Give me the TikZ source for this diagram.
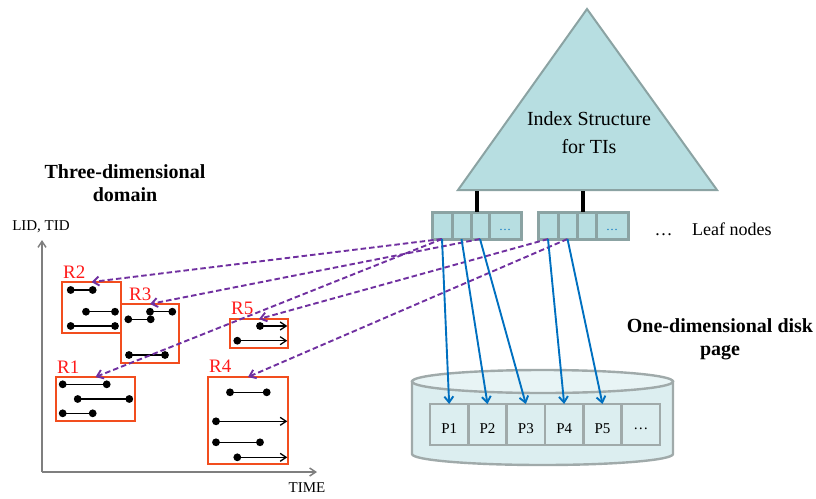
\documentclass[tikz,border=0pt]{standalone}
\usepackage{fontspec}
\setmainfont{Liberation Serif}
\usetikzlibrary{arrows.meta,calc}

\definecolor{tealfill}{HTML}{B7DEE1}
\definecolor{tealline}{HTML}{8BA3A3}
\definecolor{diskfill}{HTML}{DCEEF0}
\definecolor{disktop}{HTML}{E8F4F5}
\definecolor{diskline}{HTML}{A0AAAA}
\definecolor{rectred}{HTML}{F24D1E}
\definecolor{labred}{HTML}{FF1A1A}
\definecolor{linkpurple}{HTML}{7030A0}
\definecolor{linkblue}{HTML}{0070C0}
\definecolor{axisgray}{HTML}{7F7F7F}

% one time interval: closed at both ends, or still open at the right end
\newcommand\ivclosed[3]{%
  \draw[ivline] (#1,#3) -- (#2,#3);
  \fill (#1,#3) circle[radius=3.9];
  \fill (#2,#3) circle[radius=3.9];}
\newcommand\ivopen[3]{%
  \draw[ivline,-{Straight Barb[length=6pt,width=8pt]}] (#1,#3) -- (#2,#3);
  \fill (#1,#3) circle[radius=3.9];}

\begin{document}
\begin{tikzpicture}[x=1pt,y=-1pt,
  tri/.style={draw=tealline, fill=tealfill, line width=2pt, line join=miter},
  stem/.style={draw=black, line width=3.4pt},
  cell/.style={draw=tealline, fill=tealfill, line width=3pt,
    minimum height=27pt, inner sep=0pt, outer sep=0pt},
  bluedots/.style={text=linkblue, font=\fontsize{12}{14}\selectfont, inner sep=0pt},
  pbox/.style={draw=diskline, fill=diskfill, line width=2.4pt,
    minimum width=38.33pt, minimum height=41pt, inner sep=0pt, outer sep=0pt},
  plabel/.style={font=\fontsize{15}{18}\selectfont, yshift=-4pt},
  region/.style={draw=rectred, line width=2pt, inner sep=0pt, outer sep=0pt},
  rlabel/.style={text=labred, font=\fontsize{19}{22}\selectfont, inner sep=0pt, anchor=base west},
  ivline/.style={draw=black, line width=1.3pt},
  axis/.style={draw=axisgray, line width=1.5pt, -{Straight Barb[length=6pt,width=8pt]}},
  link/.style={draw=linkpurple, line width=1.9pt, dash pattern=on 5.5pt off 3pt,
    -{Straight Barb[length=6pt,width=9pt]}},
  pagelink/.style={draw=linkblue, line width=1.9pt, -{Straight Barb[length=6pt,width=9pt]}},
  title/.style={font=\fontsize{20}{23}\selectfont\bfseries, align=center, inner sep=0pt},
  plain/.style={font=\fontsize{15}{18}\selectfont, inner sep=0pt}
]
\useasboundingbox (0,0) rectangle (816,498);

% ---------- index structure ----------
\coordinate (tapex) at (587,9);
\coordinate (tbl) at (458,190);
\coordinate (tbr) at (717,190);
\draw[tri] (tapex) -- (tbr) -- (tbl) -- cycle;
\node[font=\fontsize{20}{28}\selectfont, align=center, inner sep=0pt] (idx) at (589,133)
  {Index Structure\\for TIs};

% ---------- leaf nodes ----------
\node[cell, minimum width=20pt] (l1a) at (442,225.5) {};
\node[cell, minimum width=19pt] (l1b) at (461.5,225.5) {};
\node[cell, minimum width=18pt] (l1c) at (480,225.5) {};
\node[cell, minimum width=32pt] (l1d) at (505,225.5) {};
\node[bluedots] (l1dots) at ([yshift=-4pt]l1d.center) {…};

\node[cell, minimum width=20pt] (l2a) at (548,225.5) {};
\node[cell, minimum width=19pt] (l2b) at (567.5,225.5) {};
\node[cell, minimum width=19pt] (l2c) at (586.5,225.5) {};
\node[cell, minimum width=32pt] (l2d) at (612,225.5) {};
\node[bluedots] (l2dots) at ([yshift=-4pt]l2d.center) {…};

\coordinate (s1) at (477,191);
\coordinate (s2) at (583,191);
\draw[stem] (s1) -- (s1 |- l1c.north);
\draw[stem] (s2) -- (s2 |- l2c.north);

\node[font=\fontsize{18}{20}\selectfont, inner sep=0pt, anchor=base] (moreleaves) at (663.5,235) {…};
\node[font=\fontsize{18}{20}\selectfont, inner sep=0pt, anchor=base west] (leaftxt) at (692,235) {Leaf nodes};

% ---------- disk ----------
\path[fill=diskfill, draw=diskline, line width=2.4pt]
  (412,381.5) -- (412,454)
  arc[start angle=180, end angle=0, x radius=130.5, y radius=11]
  -- (673,381.5) -- cycle;
\draw[fill=disktop, draw=diskline, line width=2.4pt] (542.5,381.5) ellipse[x radius=130.5, y radius=11.5];

\node[pbox, label={[plabel]center:P1}] (p1) at (449.17,424.5) {};
\node[pbox, label={[plabel]center:P2}] (p2) at (487.5,424.5) {};
\node[pbox, label={[plabel]center:P3}] (p3) at (525.83,424.5) {};
\node[pbox, label={[plabel]center:P4}] (p4) at (564.17,424.5) {};
\node[pbox, label={[plabel]center:P5}] (p5) at (602.5,424.5) {};
\node[pbox, label={[plabel]center:…}] (p6) at (640.83,424.5) {};

\node[title] (disktxt) at (720,339) {One-dimensional disk\\page};

% ---------- three-dimensional domain ----------
\node[title] (domtxt) at (125,183) {Three-dimensional\\domain};

\coordinate (origin) at (42,472);
\coordinate (yend) at (42,240);
\coordinate (xend) at (317,472);
\draw[axis] (origin) -- (yend);
\draw[axis] (origin) -- (xend);
\node[plain] (ylab) at (41,227) {LID, TID};
\node[plain] (xlab) at (307,488) {TIME};

\node[region, minimum width=59pt, minimum height=51pt] (r2) at (91.5,307.5) {};
\node[region, minimum width=58pt, minimum height=59pt] (r3) at (150,333.5) {};
\node[region, minimum width=58pt, minimum height=29pt] (r5) at (259,333.5) {};
\node[region, minimum width=79pt, minimum height=44pt] (r1) at (95.5,399) {};
\node[region, minimum width=80pt, minimum height=87pt] (r4) at (248,420.5) {};

\node[rlabel] (r2lab) at (63,278) {R2};
\node[rlabel] (r3lab) at (129,300) {R3};
\node[rlabel] (r5lab) at (231,314) {R5};
\node[rlabel] (r1lab) at (57,373) {R1};
\node[rlabel] (r4lab) at (209,372) {R4};

% intervals of R2
\ivclosed{70.7}{92.7}{290}
\ivclosed{86}{115}{311.7}
\ivclosed{70.7}{115}{326}
% intervals of R3
\ivclosed{150}{172.3}{311.7}
\ivclosed{128.3}{150.7}{319.3}
\ivclosed{129}{165}{355}
% intervals of R5
\ivopen{260}{287.3}{326}
\ivopen{237.3}{287.3}{340.7}
% intervals of R1
\ivclosed{62.7}{106.7}{384.3}
\ivclosed{77.7}{129.3}{399}
\ivclosed{62.7}{92.7}{413.3}
% intervals of R4
\ivclosed{230}{266.7}{392.3}
\ivopen{216}{287.3}{421.3}
\ivclosed{216}{260}{442.3}
\ivopen{237.3}{287.3}{457.3}

% ---------- leaf entries to regions and to pages ----------
\draw[link] (l1a.south) -- (r2.north);
\draw[link] (l1c.south) -- (r3.north);
\draw[link] (l1a.south) -- (r1.north);
\draw[link] (l2a.south) -- (r5.north);
\draw[link] (l2b.south) -- (r4.north);

\draw[pagelink] (l1a.south) -- (p1.north);
\draw[pagelink] (l1b.south) -- (p2.north);
\draw[pagelink] (l1c.south) -- (p3.north);
\draw[pagelink] (l2a.south) -- (p4.north);
\draw[pagelink] (l2b.south) -- (p5.north);
\end{tikzpicture}
\end{document}
